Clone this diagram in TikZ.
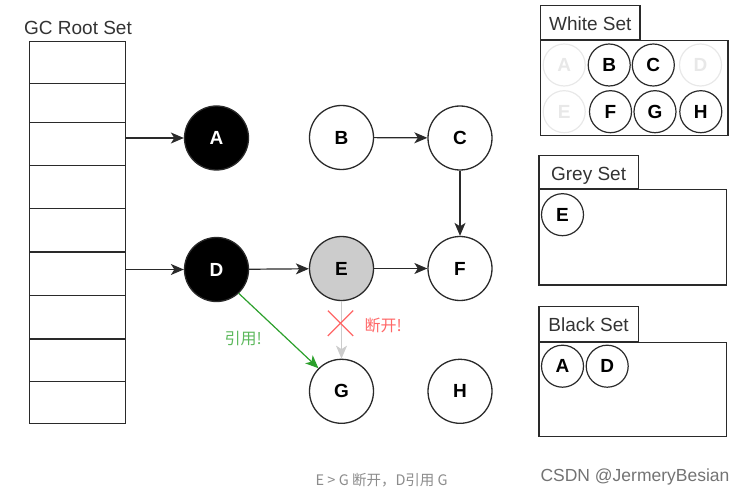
\documentclass[tikz,border=0pt]{standalone}
\usepackage{fontspec}
\setmainfont{Liberation Sans}
\newfontfamily\cjk{Noto Sans CJK SC}
\usetikzlibrary{arrows.meta,shapes.misc}
\definecolor{lineC}{HTML}{2A2A2A}
\definecolor{greyfill}{HTML}{CCCCCC}
\definecolor{fadeC}{HTML}{E8E8E8}
\definecolor{redC}{HTML}{FF6666}
\definecolor{greenA}{HTML}{2CA02C}
\definecolor{greenT}{HTML}{5CB85C}
\begin{document}
\begin{tikzpicture}[x=1pt,y=-1pt,
  obj/.style={circle, draw=lineC, line width=1.3pt, minimum size=64pt, inner sep=0pt, font=\fontsize{19}{21}\selectfont\bfseries},
  blk/.style={obj, fill=black, text=white},
  gry/.style={obj, fill=greyfill},
  mini/.style={circle, draw=lineC, line width=1.2pt, minimum size=42pt, inner sep=0pt, font=\fontsize{19}{21}\selectfont\bfseries},
  faded/.style={mini, draw=fadeC, text=fadeC},
  rootrow/.style={draw=lineC, line width=1.2pt, minimum width=96pt, inner sep=0pt, anchor=north west},
  setbox/.style={draw=lineC, line width=1.2pt, inner sep=0pt},
  lbl/.style={font=\fontsize{19}{22}\selectfont, text=black!80},
  arr/.style={-{Stealth[length=13pt,width=11pt,inset=3.5pt]}, line width=1.2pt, draw=lineC},
]
\useasboundingbox (0,0) rectangle (742,492);

% GC root set
\node[lbl] (rootlbl) at (78,27.5) {GC Root Set};
\foreach \i/\a/\h in {1/40.7/42.6, 2/83.3/38.4, 3/121.7/43, 4/164.7/43, 5/207.7/43.6, 6/251.3/43.4, 7/294.7/43.6, 8/338.3/42.7, 9/381/41.7}
  \node[rootrow, minimum height=\h pt] (r\i) at (29,\a) {};

% objects
\node[blk] (A) at (216.5,138) {A};
\node[blk] (D) at (216.5,269.5) {D};
\node[obj] (B) at (341.5,137.5) {B};
\node[obj] (C) at (460,138) {C};
\node[gry] (E) at (341.5,268.5) {E};
\node[obj] (F) at (460,268.5) {F};
\node[obj] (G) at (341.5,391.3) {G};
\node[obj] (H) at (460,391.3) {H};

% edges
\draw[arr] (r3.east |- A) -- (A);
\draw[arr] (r6.east |- D) -- (D);
\draw[arr] (B) -- (C);
\draw[arr] (C) -- (F);
\draw[arr] (D) -- (E);
\draw[arr] (E) -- (F);
\draw[arr, draw=greyfill] (E) -- (G);
\draw[arr, draw=greenA] (D.-47) -- (G.135);
\node[cross out, draw=redC, line width=1.3pt, minimum size=24pt, inner sep=0pt] (X) at (340.5,323.3) {};
\node[text=redC, font=\cjk\fontsize{16}{18}\selectfont] (cut) at (383.3,325) {断开!};
\node[text=greenT, font=\cjk\fontsize{16}{18}\selectfont] (ref) at (243.3,338.5) {引用!};

% White set
\node[setbox, minimum width=187.3pt, minimum height=95pt, anchor=north west] (wbox) at (540,40) {};
\node[setbox, lbl, minimum width=99.3pt, minimum height=34pt, anchor=south west, text depth=0pt, text height=16pt] (wtab) at (540,40) {White Set};
\node[faded] (wA) at (564.2,65) {A};
\node[mini] (wB) at (609.2,65) {B};
\node[mini] (wC) at (653.3,65) {C};
\node[faded] (wD) at (700.5,65) {D};
\node[faded] (wE) at (564.2,111.7) {E};
\node[mini] (wF) at (610.5,111.7) {F};
\node[mini] (wG) at (655,111.7) {G};
\node[mini] (wH) at (700.8,111.7) {H};

% Grey set
\node[setbox, minimum width=187.4pt, minimum height=95pt, anchor=north west] (gbox) at (538.3,189.3) {};
\node[setbox, lbl, minimum width=99.4pt, minimum height=33.3pt, anchor=south west, text depth=0pt, text height=16pt] (gtab) at (538.3,189.3) {Grey Set};
\node[mini] (gE) at (562.5,214.7) {E};

% Black set
\node[setbox, minimum width=187.4pt, minimum height=94pt, anchor=north west] (bbox) at (538.3,341.7) {};
\node[setbox, lbl, minimum width=99.4pt, minimum height=34.4pt, anchor=south west, text depth=0pt, text height=16pt] (btab) at (538.3,341.7) {Black Set};
\node[mini] (bA) at (562.5,366.2) {A};
\node[mini] (bD) at (607.2,366.2) {D};

% captions
\node[anchor=base, font=\cjk\fontsize{14.5}{17}\selectfont, text=black!45] (cap) at (381.7,485) {E > G 断开，D引用 G};
\node[anchor=base, font=\fontsize{17.5}{20}\selectfont, text=black!55] (wm) at (635,481) {CSDN @JermeryBesian};
\end{tikzpicture}
\end{document}
